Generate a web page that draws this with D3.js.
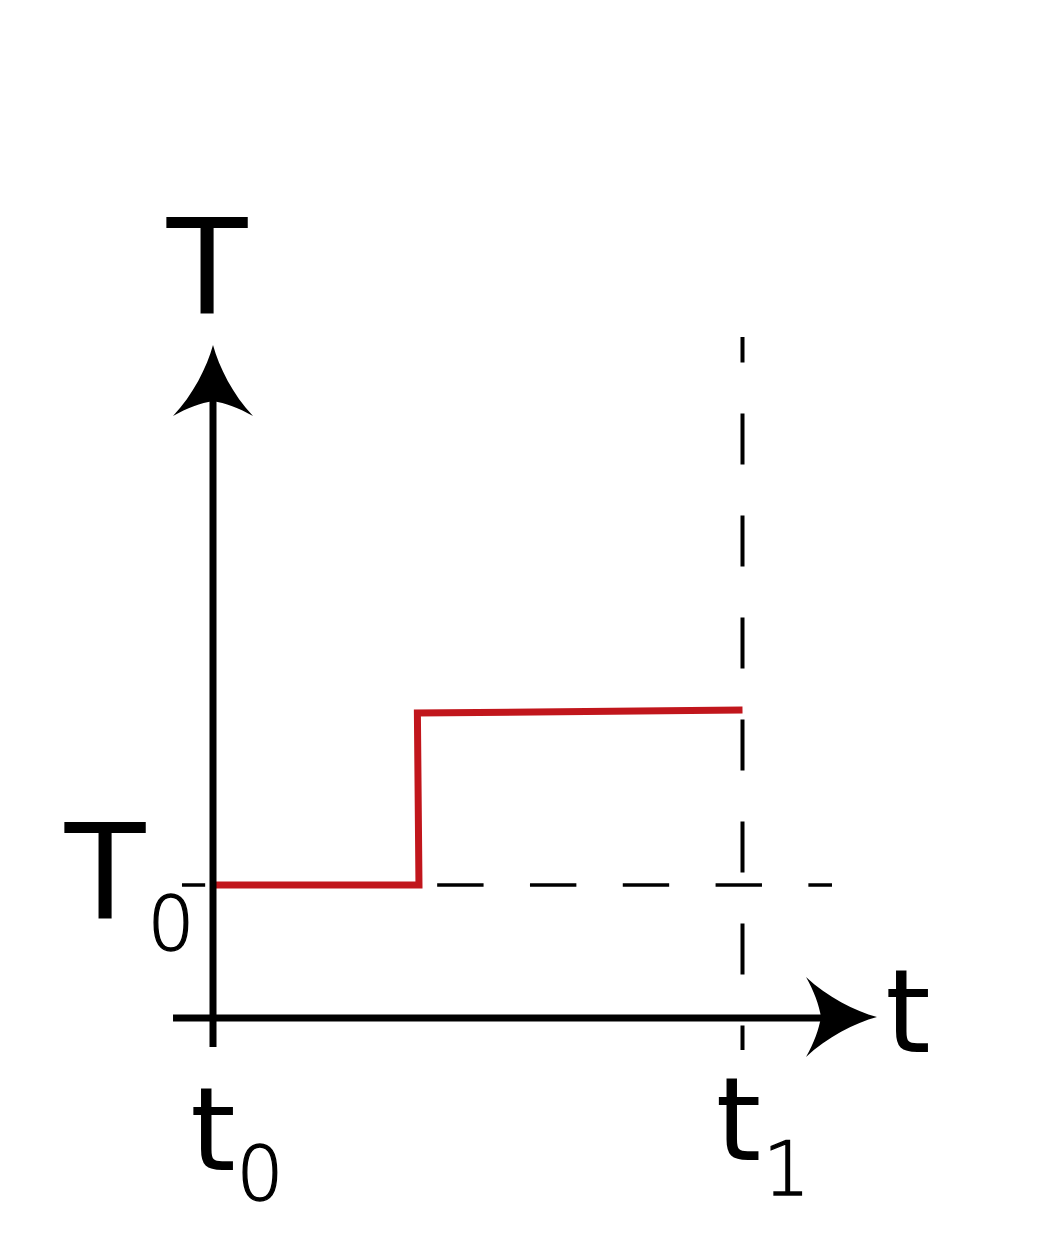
<!DOCTYPE html>
<html>
<head>
<meta charset="utf-8">
<script src="https://cdn.jsdelivr.net/npm/d3@7"></script>
<style>
html,body{margin:0;padding:0;background:#fff;}
svg{display:block;}
text{font-family:"DejaVu Sans",Verdana,sans-serif;fill:#000;}
</style>
</head>
<body>
<svg id="chart" width="1040" height="1241"></svg>
<script>
// ---- data (abstract units: t in [t0=0, t1=1], T with T0 = 1) ----
const stepT = [0, 0.389, 0.386, 1];          // time coordinates of the red step path
const stepV = [1, 1, 2.293, 2.316];          // temperature values of the red step path
const refT0 = 1;                              // T0 level (horizontal dashed line)
const refT1 = 1;                              // t1 time (vertical dashed line)
const xAxisDomain = [-0.0755, 1.254];        // x-axis extent (start, arrow tip)
const yAxisDomain = [-0.218, 5.06];          // y-axis extent (start, arrow tip)
const hDashDomain = [-0.0586, 1.169];        // horizontal dashed extent
const vDashDomain = [-0.24, 5.12];           // vertical dashed extent
const labels = {yName: "T", xName: "t", T0: ["T", "0"], t0: ["t", "0"], t1: ["t", "1"]};

const svg = d3.select("#chart");
const x = d3.scaleLinear().domain([0, 1]).range([213, 742.5]);
const y = d3.scaleLinear().domain([0, 1]).range([1018, 885]);

// dashed reference lines
svg.append("line")
  .attr("x1", x(hDashDomain[0])).attr("x2", x(hDashDomain[1]))
  .attr("y1", y(refT0)).attr("y2", y(refT0))
  .attr("stroke", "#000").attr("stroke-width", 3.6)
  .attr("stroke-dasharray", "46.4,46.4").attr("stroke-dashoffset", 23.2);

svg.append("line")
  .attr("x1", x(refT1)).attr("x2", x(refT1))
  .attr("y1", y(vDashDomain[1])).attr("y2", y(vDashDomain[0]))
  .attr("stroke", "#000").attr("stroke-width", 4)
  .attr("stroke-dasharray", "51,51").attr("stroke-dashoffset", 25.5);

// red step line
const pts = stepT.map((t, i) => [x(t), y(stepV[i])]);
svg.append("path")
  .attr("d", d3.line()(pts))
  .attr("fill", "none").attr("stroke", "#c1161c")
  .attr("stroke-width", 7).attr("stroke-linejoin", "miter").attr("stroke-linecap", "butt");

// axes
svg.append("line")
  .attr("x1", x(0)).attr("x2", x(0))
  .attr("y1", y(yAxisDomain[0])).attr("y2", y(yAxisDomain[1]) + 30)
  .attr("stroke", "#000").attr("stroke-width", 7);
svg.append("line")
  .attr("x1", x(xAxisDomain[0])).attr("x2", x(xAxisDomain[1]) - 30)
  .attr("y1", y(0)).attr("y2", y(0))
  .attr("stroke", "#000").attr("stroke-width", 7);

// arrowheads (shape pointing up, tip at origin)
const arrow = "M0,0 C6,22 20,50 40,71 C26,63 12,58 0,56 C-12,58 -26,63 -40,71 C-20,50 -6,22 0,0 Z";
svg.append("path").attr("d", arrow)
  .attr("transform", `translate(${x(0)},${y(yAxisDomain[1])})`).attr("fill", "#000");
svg.append("path").attr("d", arrow)
  .attr("transform", `translate(${x(xAxisDomain[1])},${y(0) - 1}) rotate(90)`).attr("fill", "#000");

// labels
const bigT = 132, bigt = 116, small = 74;
function label(main, size, sub, mx, my, sx, sy) {
  svg.append("text").attr("x", mx).attr("y", my).attr("font-size", size).attr("text-anchor", "middle").text(main);
  if (sub) svg.append("text").attr("x", sx).attr("y", sy).attr("font-size", small)
    .attr("font-weight", 200).attr("stroke", "#000").attr("stroke-width", 1.3)
    .attr("text-anchor", "middle").text(sub);
}
label(labels.yName, bigT, null, x(0) - 6, y(yAxisDomain[1]) - 32);
label(labels.xName, bigt, null, x(xAxisDomain[1]) + 31, y(0) + 34);
label(labels.T0[0], bigT, labels.T0[1], x(0) - 108, y(refT0) + 33, x(0) - 42, y(refT0) + 65);
label(labels.t0[0], bigt, labels.t0[1], x(0) + 0, y(0) + 152, x(0) + 47, y(0) + 182);
label(labels.t1[0], bigt, labels.t1[1], x(refT1) - 4, y(0) + 142, x(refT1) + 44, y(0) + 177);
</script>
</body>
</html>
